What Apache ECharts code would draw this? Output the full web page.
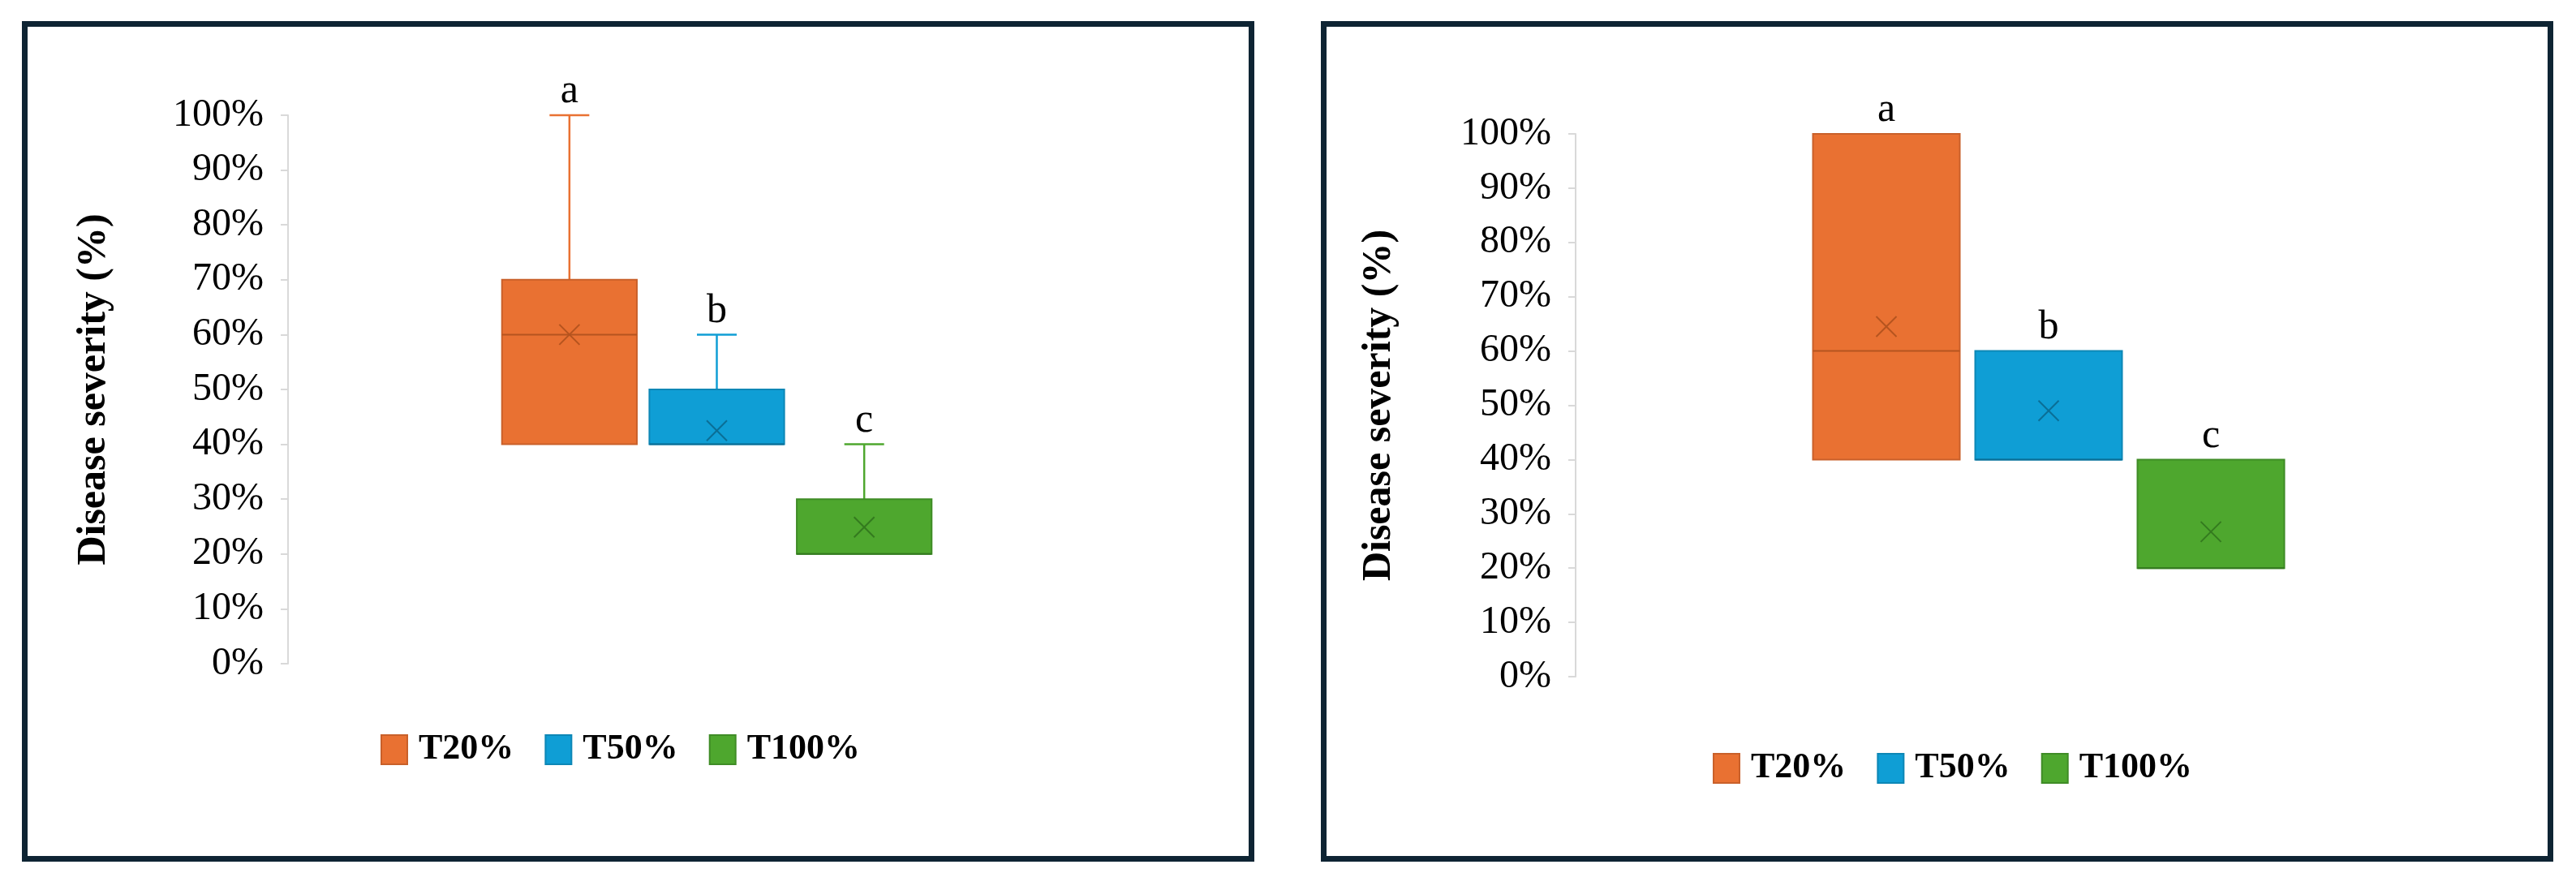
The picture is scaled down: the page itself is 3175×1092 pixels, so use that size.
<!DOCTYPE html>
<html>
<head>
<meta charset="utf-8">
<script src="https://cdn.jsdelivr.net/npm/echarts@6/dist/echarts.min.js"></script>
<style>
html,body{margin:0;padding:0;background:#fff;}
#chart{width:3175px;height:1092px;}
</style>
</head>
<body>
<div id="chart"></div>
<script>
// ---- data ----
const categories = ['T20%', 'T50%', 'T100%'];
const letters = ['a', 'b', 'c'];
const yTicks = [0, 10, 20, 30, 40, 50, 60, 70, 80, 90, 100];

// Left panel (box & whisker)
const leftMin    = [40, 40, 20];
const leftQ1     = [40, 40, 20];
const leftMedian = [60, 40, 20];
const leftQ3     = [70, 50, 30];
const leftMax    = [100, 60, 40];
const leftMean   = [60, 42.5, 24.9];

// Right panel
const rightMin    = [40, 40, 20];
const rightQ1     = [40, 40, 20];
const rightMedian = [60, 40, 20];
const rightQ3     = [100, 60, 40];
const rightMax    = [100, 60, 40];
const rightMean   = [64.5, 49, 26.7];

const fillColors = ['#E97132', '#0F9ED5', '#4EA72E'];
const edgeColors = ['#C9602A', '#0D87B6', '#3F8C26'];
const markColors = ['#B5541F', '#0B6E96', '#347A1F'];

const chart = echarts.init(document.getElementById('chart'));

function makeRender(boxRatio) {
  return function (params, api) {
    const si = params.seriesIndex % 3;
    const cat = api.value(0);
    const vMin = api.value(1), vQ1 = api.value(2), vMed = api.value(3),
          vQ3 = api.value(4), vMax = api.value(5), vMean = api.value(6);
    const pMin = api.coord([cat, vMin]);
    const pQ1 = api.coord([cat, vQ1]);
    const pMed = api.coord([cat, vMed]);
    const pQ3 = api.coord([cat, vQ3]);
    const pMax = api.coord([cat, vMax]);
    const pMean = api.coord([cat, vMean]);
    const band = api.size([1, 0])[0];
    const w = band * boxRatio;
    const cx = pQ1[0];
    const capW = 49;
    const xs = 12.5;
    const kids = [];
    if (vMax > vQ3) {
      kids.push({type: 'line', shape: {x1: cx, y1: pQ3[1], x2: cx, y2: pMax[1]}, style: {stroke: fillColors[si], lineWidth: 2.5}});
      kids.push({type: 'line', shape: {x1: cx - capW / 2, y1: pMax[1], x2: cx + capW / 2, y2: pMax[1]}, style: {stroke: fillColors[si], lineWidth: 2.5}});
    }
    if (vMin < vQ1) {
      kids.push({type: 'line', shape: {x1: cx, y1: pQ1[1], x2: cx, y2: pMin[1]}, style: {stroke: fillColors[si], lineWidth: 2.5}});
      kids.push({type: 'line', shape: {x1: cx - capW / 2, y1: pMin[1], x2: cx + capW / 2, y2: pMin[1]}, style: {stroke: fillColors[si], lineWidth: 2.5}});
    }
    kids.push({type: 'rect', shape: {x: cx - w / 2, y: pQ3[1], width: w, height: pQ1[1] - pQ3[1]},
      style: {fill: fillColors[si], stroke: edgeColors[si], lineWidth: 2}});
    kids.push({type: 'line', shape: {x1: cx - w / 2, y1: pMed[1], x2: cx + w / 2, y2: pMed[1]}, style: {stroke: markColors[si], lineWidth: 2}});
    kids.push({type: 'line', shape: {x1: cx - xs, y1: pMean[1] - xs, x2: cx + xs, y2: pMean[1] + xs}, style: {stroke: markColors[si], lineWidth: 2}});
    kids.push({type: 'line', shape: {x1: cx - xs, y1: pMean[1] + xs, x2: cx + xs, y2: pMean[1] - xs}, style: {stroke: markColors[si], lineWidth: 2}});
    kids.push({type: 'text', x: cx, y: pMax[1] - 4,
      style: {text: letters[si], textAlign: 'center', textVerticalAlign: 'bottom',
        font: '50px "Liberation Serif"', fill: '#000'}});
    return {type: 'group', children: kids};
  };
}

function buildSeries(panel, mins, q1s, meds, q3s, maxs, means, ratio) {
  return categories.map((name, i) => ({
    name: name,
    type: 'custom',
    xAxisIndex: panel,
    yAxisIndex: panel,
    renderItem: makeRender(ratio),
    itemStyle: {color: fillColors[i], borderColor: edgeColors[i], borderWidth: 2},
    encode: {x: 0, y: [1, 2, 3, 4, 5, 6]},
    data: [[i, mins[i], q1s[i], meds[i], q3s[i], maxs[i], means[i]]],
    z: 3
  }));
}

function yAxisCfg(grid, offset, gap) {
  return {
    type: 'value', gridIndex: grid, min: yTicks[0], max: yTicks[yTicks.length - 1], interval: 10,
    position: 'left', offset: offset,
    axisLine: {show: true, lineStyle: {color: '#d9d9d9', width: 2}},
    axisTick: {show: true, length: 9, lineStyle: {color: '#d9d9d9', width: 2}},
    splitLine: {show: false},
    axisLabel: {formatter: '{value}%', fontFamily: 'Liberation Serif', fontSize: 48, color: '#000', margin: 30},
    name: 'Disease severity (%)', nameLocation: 'middle', nameRotate: 90, nameGap: gap,
    nameTextStyle: {fontFamily: 'Liberation Serif', fontWeight: 'bold', fontSize: 50, color: '#000'}
  };
}

function legendCfg(left, top) {
  return {
    data: categories, left: left, top: top, orient: 'horizontal',
    icon: 'rect', itemWidth: 32, itemHeight: 36, itemGap: 38,
    selectedMode: false,
    textStyle: {fontFamily: 'Liberation Serif', fontWeight: 'bold', fontSize: 44, color: '#000', padding: [0, 0, 0, 9]}
  };
}

const option = {
  backgroundColor: '#ffffff',
  animation: false,
  graphic: [
    {type: 'rect', shape: {x: 30.5, y: 29.5, width: 1512, height: 1029}, style: {fill: 'none', stroke: '#0E2433', lineWidth: 7}, z: 10},
    {type: 'rect', shape: {x: 1631.5, y: 29.5, width: 1512, height: 1029}, style: {fill: 'none', stroke: '#0E2433', lineWidth: 7}, z: 10}
  ],
  grid: [
    {left: 611, width: 545, top: 142, height: 676},
    {left: 2225, width: 600, top: 165, height: 669}
  ],
  xAxis: [
    {type: 'category', gridIndex: 0, data: categories, show: false},
    {type: 'category', gridIndex: 1, data: categories, show: false}
  ],
  yAxis: [yAxisCfg(0, 256, 214), yAxisCfg(1, 283, 217)],
  legend: [legendCfg(464, 897), legendCfg(2106, 920)],
  series: [].concat(
    buildSeries(0, leftMin, leftQ1, leftMedian, leftQ3, leftMax, leftMean, 0.915),
    buildSeries(1, rightMin, rightQ1, rightMedian, rightQ3, rightMax, rightMean, 0.905)
  )
};
chart.setOption(option);
</script>
</body>
</html>
